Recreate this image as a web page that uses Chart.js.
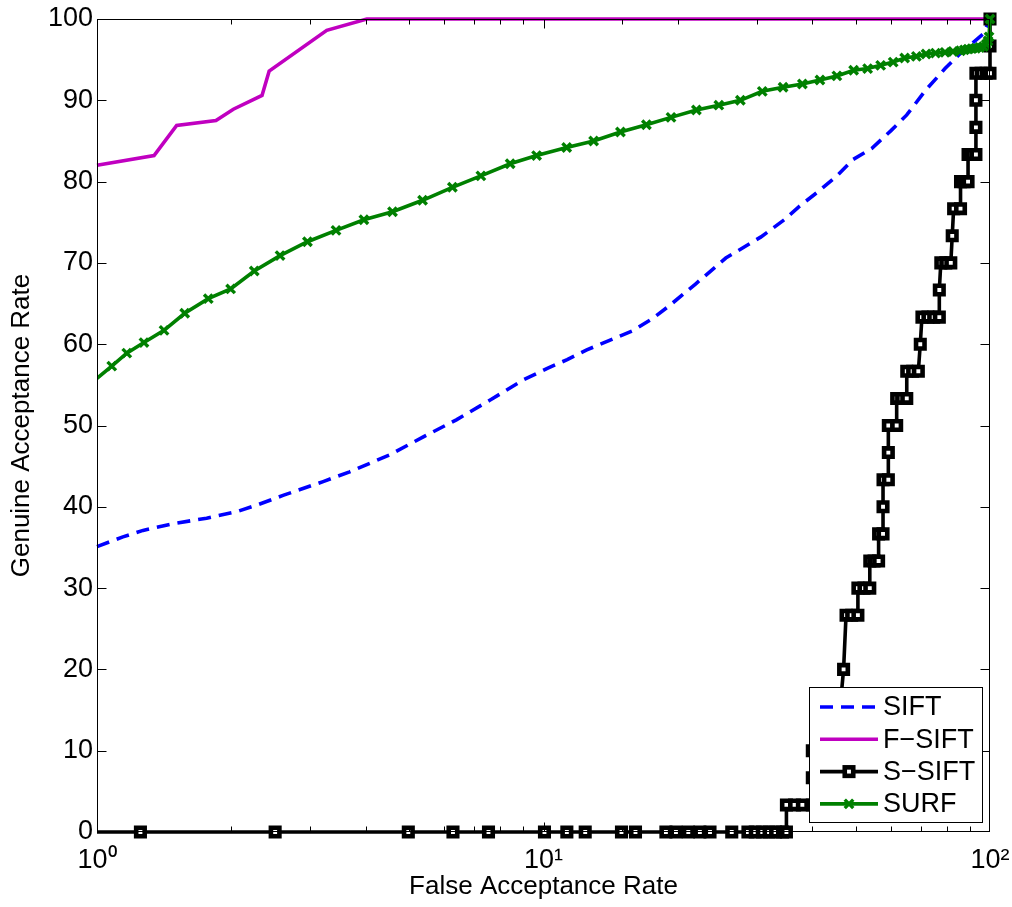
<!DOCTYPE html>
<html><head><meta charset="utf-8">
<script src="https://cdn.jsdelivr.net/npm/chart.js@4.4.1/dist/chart.umd.min.js"></script>
<style>html,body{margin:0;padding:0;background:#fff;}#wrap{width:1012px;height:907px;}</style>
</head><body><div id="wrap"><canvas id="c" width="1012" height="907"></canvas></div>
<script>
// ---- data ----
const xTickLabels = {1: '10\u2070', 10: '10\u00B9', 100: '10\u00B2'};
const seriesNames = ['SIFT', 'F\u2212SIFT', 'S\u2212SIFT', 'SURF'];
const xTitle = 'False Acceptance Rate';
const yTitle = 'Genuine Acceptance Rate';

const siftFar = [1,1.143,1.268,1.508,1.76,2.055,2.278,2.61,3.21,3.68,4.53,5.38,6.38,7.58,9.0,10.17,11.3,12.5,14.1,15.9,17.6,19.2,21.9,25.6,30.7,34.6,37.3,41.3,45.6,49.3,54.4,60.1,65.1,71.9,79.3,85.9,96.7,100];
const siftGar = [35.1,36.3,37.1,38.0,38.6,39.4,40.2,41.4,43.1,44.3,46.4,48.6,50.7,53.1,55.6,57.0,58.1,59.3,60.5,61.7,63.2,64.8,67.4,70.6,73.2,75.3,76.9,78.8,80.8,82.7,84.1,86.3,88.2,91.3,93.9,95.8,98.2,100];

const fsiftFar = [1,1.342,1.508,1.847,2.02,2.342,2.43,3.27,4.02,100];
const fsiftGar = [82,83.2,86.9,87.5,88.9,90.6,93.6,98.6,100,100];

const ssiftFar = [1,1.251,2.506,4.98,6.27,7.53,10.05,11.28,12.4,14.95,16.07,18.8,19.8,21.1,22.4,23.6,26.4,28.7,29.8,30.9,32.0,33.1,34.3,35.0,
  35.0,36.5,38.0,40.0, 40.0,40.0,43.0,46.4,47.0, 47.6,49.0,50.6, 50.6,52.2,53.8, 53.8,55.0,56.3, 56.3,57.6, 57.6, 57.6,59.2, 59.2, 59.2,61.8,
  61.8,63.4,65.1, 65.1,67.1,69.1, 69.8, 70.4,72.6,74.8,77.0, 77.0, 77.6,79.6,81.7, 82.3, 82.9,85.9, 85.9,87.5,89.3, 89.3,91.0,93.0, 93.0, 93.0,
  93.0,95.5,98.0,100, 100, 100];
const ssiftGar = [0,0,0,0,0,0,0,0,0,0,0,0,0,0,0,0,0,0,0,0,0,0,0,0,
  3.33,3.33,3.33,3.33, 6.67,10,13.33,16.67,20, 26.67,26.67,26.67, 30,30,30, 33.33,33.33,33.33, 36.67,36.67, 40, 43.33,43.33, 46.67, 50,50,
  53.33,53.33,53.33, 56.67,56.67,56.67, 60, 63.33,63.33,63.33,63.33, 66.67, 70,70,70, 73.33, 76.67,76.67, 80,80,80, 83.33,83.33,83.33, 86.67, 90,
  93.33,93.33,93.33,93.33, 96.67, 100];

const surfFar = [1,1.079,1.166,1.274,1.413,1.572,1.775,1.992,2.25,2.57,2.96,3.43,3.96,4.59,5.36,6.25,7.24,8.42,9.65,11.27,12.95,14.87,17.0,19.3,22.0,24.7,27.6,30.9,34.4,38.0,41.6,45.4,49.5,53.2,56.9,60.7,64.4,68.4,71.9,75.5,79.3,82.6,85.9,87.6,89.3,91.1,92.9,94.8,96.7,98.1,99.0,99.5,100];
const surfGar = [55.8,57.3,58.9,60.2,61.7,63.8,65.6,66.8,69.0,70.9,72.6,74.0,75.3,76.3,77.7,79.3,80.7,82.2,83.2,84.2,85.0,86.1,87.0,87.9,88.8,89.4,90.0,91.1,91.6,92.0,92.5,93.0,93.7,93.9,94.3,94.7,95.2,95.4,95.7,95.8,95.9,96.0,96.1,96.2,96.3,96.35,96.4,96.5,96.6,96.9,97.3,97.8,100];

const pts = (xs, ys) => xs.map((v, i) => ({x: v, y: ys[i]}));
const FONT = 'Liberation Sans, Arial, Helvetica, sans-serif';
const noFirst = (r) => (c) => c.dataIndex === 0 ? 0 : r;

const datasets = [
  {label: seriesNames[0], data: pts(siftFar, siftGar), borderColor: '#0000ff', borderWidth: 3.6, borderDash: [13, 8],
   pointRadius: 0, order: 3, clip: 6, mk: null},
  {label: seriesNames[1], data: pts(fsiftFar, fsiftGar), borderColor: '#c000c0', borderWidth: 3.6,
   pointRadius: 0, order: 2, clip: 6, mk: null},
  {label: seriesNames[2], data: pts(ssiftFar, ssiftGar), borderColor: '#000000', borderWidth: 3.6,
   pointStyle: 'rect', pointRadius: noFirst(6), pointBorderWidth: 4.6, pointBackgroundColor: '#ffffff', pointBorderColor: '#000000',
   order: 1, clip: {left: 0, top: 8, right: 8, bottom: 8}, mk: 'rect'},
  {label: seriesNames[3], data: pts(surfFar, surfGar), borderColor: '#008000', borderWidth: 3.6,
   pointStyle: 'crossRot', pointRadius: noFirst(6), pointBorderWidth: 3.4, pointBorderColor: '#008000', pointBackgroundColor: '#008000',
   order: 0, clip: {left: 0, top: 8, right: 8, bottom: 8}, mk: 'x'}
];

const frame = {
  id: 'frame',
  afterDatasetsDraw(chart) {
    const {ctx, chartArea: a, scales: {x, y}} = chart;
    ctx.save();
    ctx.strokeStyle = '#000'; ctx.lineWidth = 1;
    const L = Math.round(a.left) + 0.5, R = Math.round(a.right) - 0.5, T = Math.round(a.top) + 0.5, B = Math.round(a.bottom) - 0.5;
    ctx.strokeRect(L, T, R - L, B - T);
    ctx.beginPath();
    x.ticks.forEach(t => {
      const lg = Math.log10(t.value);
      if (t.value <= x.min || t.value >= x.max) return;
      const major = Math.abs(lg - Math.round(lg)) < 1e-9;
      const len = major ? 9 : 5;
      const px = Math.round(x.getPixelForValue(t.value)) + 0.5;
      ctx.moveTo(px, B); ctx.lineTo(px, B - len);
      ctx.moveTo(px, T); ctx.lineTo(px, T + len);
    });
    y.ticks.forEach(t => {
      if (t.value <= y.min || t.value >= y.max) return;
      const py = Math.round(y.getPixelForValue(t.value)) + 0.5;
      ctx.moveTo(L, py); ctx.lineTo(L + 9, py);
      ctx.moveTo(R, py); ctx.lineTo(R - 9, py);
    });
    ctx.stroke();
    ctx.restore();
  },
  afterDraw(chart) {
    const {ctx, chartArea: a} = chart;
    const w = 173, h = 135;
    const bx = Math.round(a.right) - 8 - w, by = Math.round(a.bottom) - 10 - h;
    ctx.save();
    ctx.fillStyle = '#fff';
    ctx.fillRect(bx, by, w, h);
    ctx.strokeStyle = '#000'; ctx.lineWidth = 1;
    ctx.strokeRect(bx + 0.5, by + 0.5, w, h);
    ctx.font = '27px ' + FONT;
    ctx.textBaseline = 'middle';
    ctx.textAlign = 'left';
    chart.data.datasets.forEach((d, i) => {
      const cy = by + 20 + i * 32.3;
      const x0 = bx + 11, x1 = bx + 69, xm = (x0 + x1) / 2;
      ctx.save();
      ctx.strokeStyle = d.borderColor; ctx.lineWidth = d.borderWidth;
      ctx.setLineDash(d.borderDash || []);
      ctx.beginPath(); ctx.moveTo(x0, cy); ctx.lineTo(x1, cy); ctx.stroke();
      ctx.setLineDash([]);
      if (d.mk === 'rect') {
        const s = 6 * Math.SQRT1_2;
        ctx.fillStyle = '#fff'; ctx.lineWidth = 4.6; ctx.strokeStyle = '#000';
        ctx.fillRect(xm - s, cy - s, 2 * s, 2 * s);
        ctx.strokeRect(xm - s, cy - s, 2 * s, 2 * s);
      } else if (d.mk === 'x') {
        const s = 6 * Math.SQRT1_2;
        ctx.lineWidth = 3.4; ctx.strokeStyle = d.borderColor;
        ctx.beginPath();
        ctx.moveTo(xm - s, cy - s); ctx.lineTo(xm + s, cy + s);
        ctx.moveTo(xm - s, cy + s); ctx.lineTo(xm + s, cy - s);
        ctx.stroke();
      }
      ctx.restore();
      ctx.fillStyle = '#000';
      ctx.fillText(d.label, bx + 74, cy + 1);
    });
    ctx.restore();
  }
};

new Chart(document.getElementById('c'), {
  type: 'line',
  data: {datasets},
  options: {
    responsive: false, animation: false, devicePixelRatio: 1,
    layout: {padding: {top: 19, right: 22, left: 0, bottom: 0}},
    plugins: {legend: {display: false}, tooltip: {enabled: false}},
    elements: {line: {tension: 0}},
    scales: {
      x: {
        type: 'logarithmic', min: 1, max: 100, position: 'bottom',
        grid: {display: false, drawTicks: false}, border: {display: false},
        ticks: {
          autoSkip: false, maxRotation: 0, padding: 12, color: '#000', font: {family: FONT, size: 27},
          callback: (v) => xTickLabels[v] !== undefined ? xTickLabels[v] : ''
        },
        title: {display: true, text: xTitle, color: '#000', font: {family: FONT, size: 26}, padding: {top: 0, bottom: 5}},
        afterFit: (s) => { s.height = 75; s.paddingLeft = 0; s.paddingRight = 0; }
      },
      y: {
        min: 0, max: 100,
        grid: {display: false, drawTicks: false}, border: {display: false},
        ticks: {stepSize: 10, padding: 4, color: '#000', font: {family: FONT, size: 27}},
        title: {display: true, text: yTitle, color: '#000', font: {family: FONT, size: 26}, padding: {top: 6, bottom: 0}},
        afterFit: (s) => { s.width = 97; s.paddingTop = 0; s.paddingBottom = 0; }
      }
    }
  },
  plugins: [frame]
});
</script>
</body></html>
